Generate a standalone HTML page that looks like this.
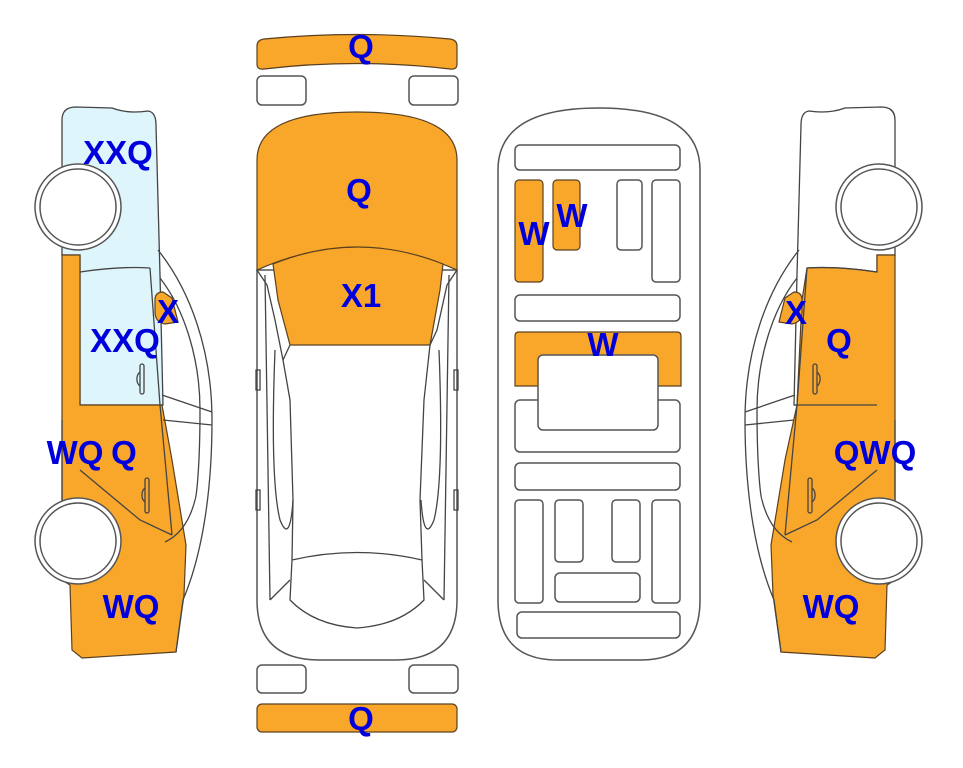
<!DOCTYPE html>
<html><head><meta charset="utf-8"><style>
html,body{margin:0;padding:0;background:#fff;width:963px;height:768px;overflow:hidden}
svg{display:block}
text{font-family:"Liberation Sans",sans-serif;font-weight:bold;font-size:33px;fill:#0000dd;text-anchor:middle}
.o{fill:#f9a72b;stroke:#5a4020;stroke-width:1.2}
.w{fill:#fff;stroke:#555;stroke-width:1.5}
.l{fill:none;stroke:#444;stroke-width:1.3}
</style></head><body>
<svg width="963" height="768" viewBox="0 0 963 768" xmlns="http://www.w3.org/2000/svg">
<defs>
<g id="side">
  <path class="l" d="M158,250 C190,290 212,350 212,420 C212,500 200,560 183,600 L176,652"/>
  <path class="l" d="M160,278 C185,310 200,360 200,410 C200,470 196,500 195,500 C190,520 180,535 165,542"/>
  <path class="l" d="M162,395 L212,412 M163,420 L212,425"/>
</g>
</defs>

<!-- LEFT SIDE -->
<path fill="#def5fb" stroke="#444" stroke-width="1.3" d="M62,255 L62,120 Q62,107 76,107 L112,108 Q128,114 148,111 Q156,112 156,125 L160,275 L163,405 L80,405 L80,255 Z"/>
<path class="o" d="M62,255 L80,255 L80,405 L162,405 L172,460 L186,545 L184,595 L176,652 L82,658 L72,650 L70,585 L62,580 Z"/>
<use href="#side"/>
<path class="l" d="M80,272 Q120,266 150,268 M150,268 L160,405 L172,535 M80,470 L140,520 L172,535 M62,420 L62,505 M95,505 L95,540"/>
<path class="o" d="M155,300 Q155,292 163,292 L172,298 L178,322 L165,324 Q155,322 155,312 Z"/>
<rect x="140" y="364" width="4" height="30" rx="2" class="l"/><path class="l" d="M140,372 a6,8 0 0 0 0,14"/>
<rect x="145" y="478" width="4" height="35" rx="2" class="l"/><path class="l" d="M145,488 a6,8 0 0 0 0,14"/>
<circle cx="78" cy="207" r="43" class="w"/><circle cx="78" cy="207" r="38" class="w"/>
<circle cx="78" cy="541" r="43" class="w"/><circle cx="78" cy="541" r="38" class="w"/>
<text x="118" y="164">XXQ</text>
<text x="168" y="323">X</text>
<text x="125" y="352">XXQ</text>
<text x="75" y="464">WQ</text>
<text x="124" y="464">Q</text>
<text x="131" y="618">WQ</text>

<!-- RIGHT SIDE (mirror) -->
<g transform="translate(957,0) scale(-1,1)">
<path fill="#fff" stroke="#444" stroke-width="1.3" d="M62,255 L62,120 Q62,107 76,107 L112,108 Q128,114 148,111 Q156,112 156,125 L160,275 L163,405 L80,405 L80,255 Z"/>
<path class="o" d="M62,255 L80,255 L80,272 Q120,266 150,268 L155,300 L160,405 L172,460 L186,545 L184,595 L176,652 L82,658 L72,650 L70,585 L62,580 Z"/>
<use href="#side"/>
<path class="l" d="M80,272 Q120,266 150,268 M150,268 L160,405 L172,535 M80,470 L140,520 L172,535 M62,420 L62,505 M80,405 L162,405 M95,505 L95,540"/>
<path class="o" d="M155,300 Q155,292 163,292 L172,298 L178,322 L165,324 Q155,322 155,312 Z"/>
<rect x="140" y="364" width="4" height="30" rx="2" class="l"/><path class="l" d="M140,372 a6,8 0 0 0 0,14"/>
<rect x="145" y="478" width="4" height="35" rx="2" class="l"/><path class="l" d="M145,488 a6,8 0 0 0 0,14"/>
<circle cx="78" cy="207" r="43" class="w"/><circle cx="78" cy="207" r="38" class="w"/>
<circle cx="78" cy="541" r="43" class="w"/><circle cx="78" cy="541" r="38" class="w"/>
</g>
<text x="796" y="324">X</text>
<text x="839" y="352">Q</text>
<text x="875" y="464">QWQ</text>
<text x="831" y="618">WQ</text>

<!-- TOP VIEW -->
<path class="o" d="M257,46 Q257,40 264,39 Q357,30 450,39 Q457,40 457,46 L457,64 Q457,70 450,69 Q357,58 264,69 Q257,70 257,64 Z"/>
<rect x="257" y="76" width="49" height="29" rx="5" class="w"/>
<rect x="409" y="76" width="49" height="29" rx="5" class="w"/>
<path class="w" d="M257,270 L257,600 Q257,660 320,660 L395,660 Q457,660 457,600 L457,270 Z"/>
<path class="o" d="M257,270 L257,160 Q257,112 357,112 Q457,112 457,160 L457,270 Q357,225 257,270 Z"/>
<path class="o" d="M273,264 Q357,230 443,264 L440,290 L430,345 L290,345 L278,300 Z"/>
<path class="l" d="M257,270 L267,285 L275,320 L283,360 L290,345 M457,270 L447,285 L437,330 L430,345 M283,360 L290,400 L293,500 L292,560 M430,345 L424,400 L420,500 L422,560"/>
<path class="l" d="M265,275 L270,600 M449,275 L444,600 M270,600 L290,580 M444,600 L424,580"/>
<path class="l" d="M292,560 Q357,545 422,560 L424,600 Q400,625 357,628 Q314,625 290,600 Z"/>
<path class="l" d="M275,350 Q270,480 280,520 Q290,545 293,500 M439,350 Q444,480 434,520 Q424,545 421,500"/>
<rect x="256" y="370" width="4" height="20" class="l"/><rect x="454" y="370" width="4" height="20" class="l"/>
<rect x="256" y="490" width="4" height="20" class="l"/><rect x="454" y="490" width="4" height="20" class="l"/>
<rect x="257" y="665" width="49" height="28" rx="5" class="w"/>
<rect x="409" y="665" width="49" height="28" rx="5" class="w"/>
<rect x="257" y="704" width="200" height="28" rx="5" class="o"/>
<text x="361" y="58">Q</text>
<text x="359" y="202">Q</text>
<text x="361" y="307">X1</text>
<text x="361" y="730">Q</text>

<!-- UNDERSIDE -->
<path class="w" d="M498,170 Q498,108 599,108 Q700,108 700,170 L700,600 Q700,660 640,660 L558,660 Q498,660 498,600 Z"/>
<g stroke="#555" stroke-width="1.5" fill="#fff">
<rect x="515" y="145" width="165" height="25" rx="5"/>
<rect x="515" y="180" width="28" height="102" rx="4" class="o"/>
<rect x="553" y="180" width="27" height="70" rx="4" class="o"/>
<rect x="617" y="180" width="25" height="70" rx="4"/>
<rect x="652" y="180" width="28" height="102" rx="4"/>
<rect x="515" y="295" width="165" height="26" rx="5"/>
<rect x="515" y="400" width="165" height="52" rx="5"/>
<path class="o" d="M519,332 L677,332 Q681,332 681,336 L681,386 L515,386 L515,336 Q515,332 519,332 Z"/>
<rect x="538" y="355" width="120" height="75" rx="5"/>
<rect x="515" y="463" width="165" height="27" rx="5"/>
<rect x="515" y="500" width="28" height="103" rx="4"/>
<rect x="555" y="500" width="28" height="62" rx="4"/>
<rect x="612" y="500" width="28" height="62" rx="4"/>
<rect x="652" y="500" width="28" height="103" rx="4"/>
<rect x="555" y="573" width="85" height="29" rx="5"/>
<rect x="517" y="612" width="163" height="26" rx="5"/>
</g>
<text x="534" y="245">W</text>
<text x="572" y="227">W</text>
<text x="603" y="356">W</text>
</svg>
</body></html>
